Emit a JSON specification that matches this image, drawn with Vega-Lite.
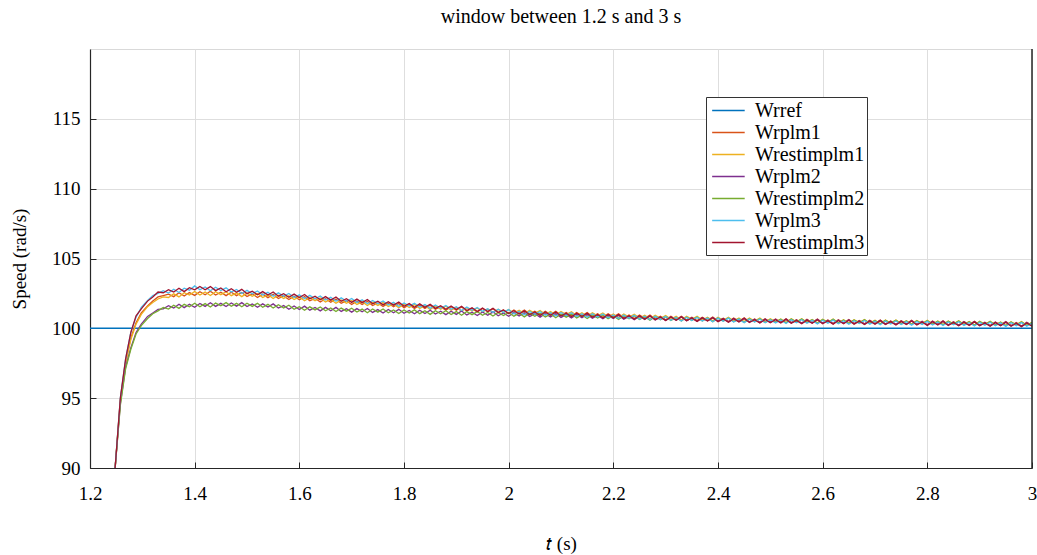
{
"$schema": "https://vega.github.io/schema/vega-lite/v6.json",
"width": 942, "height": 419,
"autosize": "none",
"padding": {"left": 90, "top": 49, "right": 5, "bottom": 87},
"background": "white",
"title": {"text": "window between 1.2 s and 3 s", "font": "Liberation Serif", "fontSize": 20, "fontWeight": "normal", "color": "#000", "offset": 21},
"config": {
  "font": "Liberation Serif",
  "view": {"stroke": "#d9d9d9", "strokeWidth": 1},
  "axis": {"labelFont": "Liberation Serif", "titleFont": "Liberation Serif", "labelFontSize": 19, "titleFontSize": 19, "titleFontWeight": "normal", "labelColor": "#000", "titleColor": "#000", "domainColor": "#262626", "domainWidth": 1.2, "tickColor": "#262626", "gridColor": "#dedede", "gridWidth": 1, "tickSize": -6, "labelFlush": false}
},
"datasets": {
  "names": [{"k":"a","s":"Wrplm1"},{"k":"b","s":"Wrestimplm1"},{"k":"c","s":"Wrplm2"},{"k":"d","s":"Wrestimplm2"},{"k":"e","s":"Wrplm3"},{"k":"f","s":"Wrestimplm3"}],
  "sim": [
{"t":1.248,"a":90,"b":90,"c":90,"d":90,"e":90,"f":90},
{"t":1.258,"a":94.9,"b":94.8,"c":94.6,"d":94.5,"e":95.0,"f":95.0},
{"t":1.268,"a":97.6,"b":97.5,"c":97.2,"d":97.1,"e":97.8,"f":97.8},
{"t":1.278,"a":99.3,"b":99.2,"c":98.6,"d":98.5,"e":99.7,"f":99.7},
{"t":1.288,"a":100.4,"b":100.3,"c":99.7,"d":99.6,"e":100.8,"f":100.9},
{"t":1.298,"a":101.1,"b":101.0,"c":100.3,"d":100.2,"e":101.5,"f":101.4},
{"t":1.31,"a":101.6,"b":101.55,"c":100.85,"d":100.7,"e":102.0,"f":101.95},
{"t":1.32,"a":101.95,"b":101.85,"c":101.1,"d":101.05,"e":102.35,"f":102.25},
{"t":1.33,"a":102.25,"b":102.1,"c":101.35,"d":101.25,"e":102.5,"f":102.6},
{"t":1.34,"a":102.35,"b":102.25,"c":101.4,"d":101.5,"e":102.7,"f":102.55},
{"t":1.35,"a":102.45,"b":102.21,"c":101.62,"d":101.38,"e":102.53,"f":102.77},
{"t":1.36,"a":102.27,"b":102.47,"c":101.45,"d":101.65,"e":102.80,"f":102.60},
{"t":1.37,"a":102.55,"b":102.25,"c":101.73,"d":101.43,"e":102.57,"f":102.87},
{"t":1.38,"a":102.31,"b":102.55,"c":101.48,"d":101.72,"e":102.87,"f":102.63},
{"t":1.39,"a":102.56,"b":102.38,"c":101.72,"d":101.54,"e":102.73,"f":102.91},
{"t":1.40,"a":102.36,"b":102.64,"c":101.51,"d":101.79,"e":103.04,"f":102.76},
{"t":1.41,"a":102.62,"b":102.38,"c":101.78,"d":101.54,"e":102.76,"f":103.00},
{"t":1.42,"a":102.40,"b":102.60,"c":101.57,"d":101.77,"e":102.96,"f":102.76},
{"t":1.43,"a":102.65,"b":102.35,"c":101.83,"d":101.53,"e":102.69,"f":102.99},
{"t":1.44,"a":102.38,"b":102.62,"c":101.57,"d":101.81,"e":102.94,"f":102.70},
{"t":1.45,"a":102.59,"b":102.41,"c":101.79,"d":101.61,"e":102.71,"f":102.89},
{"t":1.46,"a":102.34,"b":102.62,"c":101.56,"d":101.84,"e":102.90,"f":102.62},
{"t":1.47,"a":102.58,"b":102.34,"c":101.82,"d":101.58,"e":102.60,"f":102.84},
{"t":1.48,"a":102.34,"b":102.54,"c":101.59,"d":101.79,"e":102.78,"f":102.58},
{"t":1.49,"a":102.57,"b":102.27,"c":101.84,"d":101.54,"e":102.49,"f":102.79},
{"t":1.50,"a":102.28,"b":102.52,"c":101.56,"d":101.80,"e":102.72,"f":102.48},
{"t":1.51,"a":102.47,"b":102.29,"c":101.75,"d":101.57,"e":102.48,"f":102.66},
{"t":1.52,"a":102.21,"b":102.49,"c":101.51,"d":101.79,"e":102.68,"f":102.40},
{"t":1.53,"a":102.45,"b":102.21,"c":101.75,"d":101.51,"e":102.39,"f":102.63},
{"t":1.54,"a":102.20,"b":102.40,"c":101.52,"d":101.72,"e":102.58,"f":102.38},
{"t":1.55,"a":102.43,"b":102.13,"c":101.75,"d":101.45,"e":102.30,"f":102.60},
{"t":1.56,"a":102.13,"b":102.37,"c":101.45,"d":101.69,"e":102.54,"f":102.30},
{"t":1.57,"a":102.32,"b":102.14,"c":101.63,"d":101.45,"e":102.30,"f":102.48},
{"t":1.58,"a":102.06,"b":102.34,"c":101.37,"d":101.65,"e":102.50,"f":102.22},
{"t":1.59,"a":102.30,"b":102.06,"c":101.60,"d":101.36,"e":102.21,"f":102.45},
{"t":1.60,"a":102.05,"b":102.25,"c":101.35,"d":101.55,"e":102.40,"f":102.20},
{"t":1.61,"a":102.27,"b":101.97,"c":101.59,"d":101.29,"e":102.12,"f":102.42},
{"t":1.62,"a":101.97,"b":102.21,"c":101.30,"d":101.54,"e":102.36,"f":102.12},
{"t":1.63,"a":102.15,"b":101.97,"c":101.50,"d":101.32,"e":102.12,"f":102.30},
{"t":1.64,"a":101.89,"b":102.17,"c":101.25,"d":101.53,"e":102.32,"f":102.04},
{"t":1.65,"a":102.12,"b":101.88,"c":101.50,"d":101.26,"e":102.03,"f":102.27},
{"t":1.66,"a":101.87,"b":102.07,"c":101.26,"d":101.46,"e":102.22,"f":102.02},
{"t":1.67,"a":102.09,"b":101.79,"c":101.50,"d":101.20,"e":101.94,"f":102.24},
{"t":1.68,"a":101.79,"b":102.03,"c":101.21,"d":101.45,"e":102.18,"f":101.94},
{"t":1.69,"a":101.97,"b":101.79,"c":101.41,"d":101.23,"e":101.94,"f":102.12},
{"t":1.70,"a":101.71,"b":101.99,"c":101.16,"d":101.44,"e":102.14,"f":101.86},
{"t":1.71,"a":101.95,"b":101.71,"c":101.41,"d":101.17,"e":101.85,"f":102.09},
{"t":1.72,"a":101.70,"b":101.90,"c":101.18,"d":101.38,"e":102.04,"f":101.84},
{"t":1.73,"a":101.93,"b":101.63,"c":101.42,"d":101.12,"e":101.76,"f":102.06},
{"t":1.74,"a":101.63,"b":101.87,"c":101.14,"d":101.38,"e":102.00,"f":101.76},
{"t":1.75,"a":101.82,"b":101.64,"c":101.34,"d":101.16,"e":101.76,"f":101.94},
{"t":1.76,"a":101.56,"b":101.84,"c":101.10,"d":101.38,"e":101.96,"f":101.68},
{"t":1.77,"a":101.80,"b":101.56,"c":101.35,"d":101.11,"e":101.67,"f":101.91},
{"t":1.78,"a":101.55,"b":101.75,"c":101.12,"d":101.32,"e":101.86,"f":101.66},
{"t":1.79,"a":101.78,"b":101.48,"c":101.36,"d":101.06,"e":101.58,"f":101.88},
{"t":1.80,"a":101.48,"b":101.72,"c":101.08,"d":101.32,"e":101.82,"f":101.58},
{"t":1.81,"a":101.67,"b":101.49,"c":101.28,"d":101.10,"e":101.59,"f":101.77},
{"t":1.82,"a":101.42,"b":101.70,"c":101.04,"d":101.32,"e":101.79,"f":101.51},
{"t":1.83,"a":101.66,"b":101.42,"c":101.29,"d":101.05,"e":101.51,"f":101.75},
{"t":1.84,"a":101.42,"b":101.62,"c":101.06,"d":101.26,"e":101.70,"f":101.50},
{"t":1.85,"a":101.65,"b":101.35,"c":101.30,"d":101.00,"e":101.43,"f":101.73},
{"t":1.86,"a":101.36,"b":101.60,"c":101.02,"d":101.26,"e":101.67,"f":101.43},
{"t":1.87,"a":101.55,"b":101.37,"c":101.22,"d":101.04,"e":101.44,"f":101.62},
{"t":1.88,"a":101.30,"b":101.58,"c":100.98,"d":101.26,"e":101.64,"f":101.36},
{"t":1.89,"a":101.54,"b":101.30,"c":101.23,"d":100.99,"e":101.36,"f":101.60},
{"t":1.90,"a":101.30,"b":101.50,"c":101.00,"d":101.20,"e":101.55,"f":101.35},
{"t":1.91,"a":101.53,"b":101.23,"c":101.24,"d":100.94,"e":101.28,"f":101.58},
{"t":1.92,"a":101.24,"b":101.48,"c":100.96,"d":101.20,"e":101.52,"f":101.28},
{"t":1.93,"a":101.43,"b":101.25,"c":101.16,"d":100.98,"e":101.29,"f":101.47},
{"t":1.94,"a":101.18,"b":101.46,"c":100.92,"d":101.20,"e":101.49,"f":101.21},
{"t":1.95,"a":101.42,"b":101.18,"c":101.17,"d":100.93,"e":101.21,"f":101.45},
{"t":1.96,"a":101.18,"b":101.38,"c":100.94,"d":101.14,"e":101.40,"f":101.20},
{"t":1.97,"a":101.41,"b":101.11,"c":101.18,"d":100.88,"e":101.13,"f":101.43},
{"t":1.98,"a":101.12,"b":101.36,"c":100.90,"d":101.14,"e":101.37,"f":101.13},
{"t":1.99,"a":101.31,"b":101.13,"c":101.10,"d":100.92,"e":101.14,"f":101.32},
{"t":2.00,"a":101.06,"b":101.34,"c":100.86,"d":101.14,"e":101.34,"f":101.06},
{"t":2.01,"a":101.31,"b":101.10,"c":101.11,"d":100.87,"e":101.03,"f":101.26},
{"t":2.02,"a":101.07,"b":101.30,"c":100.88,"d":101.08,"e":101.23,"f":101.02},
{"t":2.03,"a":101.31,"b":101.04,"c":101.12,"d":100.82,"e":100.97,"f":101.26},
{"t":2.04,"a":101.02,"b":101.29,"c":100.84,"d":101.08,"e":101.22,"f":100.97},
{"t":2.05,"a":101.22,"b":101.07,"c":101.04,"d":100.86,"e":101.00,"f":101.17},
{"t":2.06,"a":100.97,"b":101.28,"c":100.80,"d":101.08,"e":101.21,"f":100.92},
{"t":2.07,"a":101.22,"b":101.01,"c":101.05,"d":100.81,"e":100.94,"f":101.17},
{"t":2.08,"a":100.98,"b":101.21,"c":100.82,"d":101.02,"e":101.14,"f":100.93},
{"t":2.09,"a":101.22,"b":100.95,"c":101.06,"d":100.76,"e":100.88,"f":101.17},
{"t":2.10,"a":100.93,"b":101.20,"c":100.78,"d":101.02,"e":101.13,"f":100.88},
{"t":2.11,"a":101.13,"b":100.98,"c":100.98,"d":100.80,"e":100.91,"f":101.08},
{"t":2.12,"a":100.88,"b":101.19,"c":100.74,"d":101.02,"e":101.12,"f":100.83},
{"t":2.13,"a":101.13,"b":100.92,"c":100.99,"d":100.75,"e":100.85,"f":101.08},
{"t":2.14,"a":100.89,"b":101.12,"c":100.76,"d":100.96,"e":101.05,"f":100.84},
{"t":2.15,"a":101.13,"b":100.86,"c":101.00,"d":100.70,"e":100.79,"f":101.08},
{"t":2.16,"a":100.84,"b":101.11,"c":100.72,"d":100.96,"e":101.04,"f":100.79},
{"t":2.17,"a":101.04,"b":100.89,"c":100.92,"d":100.74,"e":100.82,"f":100.99},
{"t":2.18,"a":100.79,"b":101.10,"c":100.68,"d":100.96,"e":101.03,"f":100.74},
{"t":2.19,"a":101.04,"b":100.83,"c":100.93,"d":100.69,"e":100.76,"f":100.99},
{"t":2.20,"a":100.80,"b":101.03,"c":100.70,"d":100.90,"e":100.96,"f":100.75},
{"t":2.21,"a":101.04,"b":100.77,"c":100.94,"d":100.64,"e":100.70,"f":100.99},
{"t":2.22,"a":100.75,"b":101.02,"c":100.66,"d":100.90,"e":100.95,"f":100.70},
{"t":2.23,"a":100.95,"b":100.80,"c":100.86,"d":100.68,"e":100.73,"f":100.90},
{"t":2.24,"a":100.70,"b":101.01,"c":100.62,"d":100.90,"e":100.94,"f":100.65},
{"t":2.25,"a":100.95,"b":100.74,"c":100.87,"d":100.63,"e":100.67,"f":100.90},
{"t":2.26,"a":100.71,"b":100.94,"c":100.64,"d":100.84,"e":100.87,"f":100.66},
{"t":2.27,"a":100.95,"b":100.68,"c":100.88,"d":100.58,"e":100.61,"f":100.90},
{"t":2.28,"a":100.66,"b":100.93,"c":100.60,"d":100.84,"e":100.86,"f":100.61},
{"t":2.29,"a":100.86,"b":100.71,"c":100.80,"d":100.62,"e":100.64,"f":100.81},
{"t":2.30,"a":100.61,"b":100.92,"c":100.56,"d":100.84,"e":100.85,"f":100.56},
{"t":2.31,"a":100.86,"b":100.65,"c":100.81,"d":100.57,"e":100.58,"f":100.81},
{"t":2.32,"a":100.63,"b":100.86,"c":100.58,"d":100.78,"e":100.79,"f":100.58},
{"t":2.33,"a":100.87,"b":100.60,"c":100.83,"d":100.53,"e":100.53,"f":100.82},
{"t":2.34,"a":100.59,"b":100.86,"c":100.55,"d":100.79,"e":100.79,"f":100.54},
{"t":2.35,"a":100.79,"b":100.64,"c":100.75,"d":100.57,"e":100.57,"f":100.74},
{"t":2.36,"a":100.55,"b":100.86,"c":100.51,"d":100.79,"e":100.79,"f":100.50},
{"t":2.37,"a":100.80,"b":100.59,"c":100.76,"d":100.52,"e":100.52,"f":100.75},
{"t":2.38,"a":100.57,"b":100.80,"c":100.54,"d":100.74,"e":100.73,"f":100.52},
{"t":2.39,"a":100.81,"b":100.54,"c":100.78,"d":100.48,"e":100.47,"f":100.76},
{"t":2.40,"a":100.53,"b":100.80,"c":100.50,"d":100.74,"e":100.73,"f":100.48},
{"t":2.41,"a":100.73,"b":100.58,"c":100.70,"d":100.52,"e":100.51,"f":100.68},
{"t":2.42,"a":100.49,"b":100.80,"c":100.46,"d":100.74,"e":100.73,"f":100.44},
{"t":2.43,"a":100.74,"b":100.53,"c":100.71,"d":100.47,"e":100.46,"f":100.69},
{"t":2.44,"a":100.51,"b":100.74,"c":100.48,"d":100.68,"e":100.67,"f":100.46},
{"t":2.45,"a":100.75,"b":100.48,"c":100.72,"d":100.42,"e":100.41,"f":100.70},
{"t":2.46,"a":100.47,"b":100.74,"c":100.45,"d":100.69,"e":100.67,"f":100.42},
{"t":2.47,"a":100.67,"b":100.52,"c":100.65,"d":100.47,"e":100.45,"f":100.62},
{"t":2.48,"a":100.43,"b":100.74,"c":100.41,"d":100.69,"e":100.67,"f":100.38},
{"t":2.49,"a":100.68,"b":100.47,"c":100.66,"d":100.42,"e":100.40,"f":100.63},
{"t":2.50,"a":100.45,"b":100.68,"c":100.43,"d":100.63,"e":100.61,"f":100.40},
{"t":2.51,"a":100.67,"b":100.46,"c":100.65,"d":100.44,"e":100.39,"f":100.62},
{"t":2.52,"a":100.44,"b":100.67,"c":100.42,"d":100.65,"e":100.60,"f":100.39},
{"t":2.53,"a":100.69,"b":100.42,"c":100.67,"d":100.40,"e":100.35,"f":100.64},
{"t":2.54,"a":100.41,"b":100.68,"c":100.39,"d":100.66,"e":100.61,"f":100.36},
{"t":2.55,"a":100.62,"b":100.47,"c":100.60,"d":100.45,"e":100.40,"f":100.57},
{"t":2.56,"a":100.38,"b":100.69,"c":100.36,"d":100.67,"e":100.62,"f":100.33},
{"t":2.57,"a":100.64,"b":100.43,"c":100.62,"d":100.41,"e":100.36,"f":100.59},
{"t":2.58,"a":100.41,"b":100.64,"c":100.39,"d":100.62,"e":100.57,"f":100.36},
{"t":2.59,"a":100.66,"b":100.39,"c":100.64,"d":100.37,"e":100.32,"f":100.61},
{"t":2.60,"a":100.38,"b":100.65,"c":100.36,"d":100.63,"e":100.58,"f":100.33},
{"t":2.61,"a":100.59,"b":100.44,"c":100.57,"d":100.42,"e":100.37,"f":100.54},
{"t":2.62,"a":100.35,"b":100.66,"c":100.33,"d":100.64,"e":100.59,"f":100.30},
{"t":2.63,"a":100.61,"b":100.40,"c":100.59,"d":100.38,"e":100.33,"f":100.56},
{"t":2.64,"a":100.38,"b":100.61,"c":100.36,"d":100.59,"e":100.54,"f":100.33},
{"t":2.65,"a":100.63,"b":100.36,"c":100.61,"d":100.34,"e":100.29,"f":100.58},
{"t":2.66,"a":100.35,"b":100.62,"c":100.33,"d":100.60,"e":100.55,"f":100.30},
{"t":2.67,"a":100.56,"b":100.41,"c":100.54,"d":100.39,"e":100.34,"f":100.51},
{"t":2.68,"a":100.32,"b":100.63,"c":100.30,"d":100.61,"e":100.56,"f":100.27},
{"t":2.69,"a":100.58,"b":100.37,"c":100.56,"d":100.35,"e":100.30,"f":100.53},
{"t":2.70,"a":100.35,"b":100.58,"c":100.33,"d":100.56,"e":100.51,"f":100.30},
{"t":2.71,"a":100.60,"b":100.33,"c":100.58,"d":100.31,"e":100.26,"f":100.55},
{"t":2.72,"a":100.32,"b":100.59,"c":100.30,"d":100.57,"e":100.52,"f":100.27},
{"t":2.73,"a":100.53,"b":100.38,"c":100.51,"d":100.36,"e":100.31,"f":100.48},
{"t":2.74,"a":100.29,"b":100.60,"c":100.27,"d":100.58,"e":100.53,"f":100.24},
{"t":2.75,"a":100.55,"b":100.34,"c":100.53,"d":100.32,"e":100.27,"f":100.50},
{"t":2.76,"a":100.32,"b":100.55,"c":100.30,"d":100.53,"e":100.48,"f":100.27},
{"t":2.77,"a":100.57,"b":100.30,"c":100.55,"d":100.28,"e":100.23,"f":100.52},
{"t":2.78,"a":100.29,"b":100.56,"c":100.27,"d":100.54,"e":100.49,"f":100.24},
{"t":2.79,"a":100.50,"b":100.35,"c":100.48,"d":100.33,"e":100.28,"f":100.45},
{"t":2.80,"a":100.26,"b":100.57,"c":100.24,"d":100.55,"e":100.50,"f":100.21},
{"t":2.81,"a":100.52,"b":100.31,"c":100.50,"d":100.29,"e":100.24,"f":100.47},
{"t":2.82,"a":100.29,"b":100.52,"c":100.27,"d":100.50,"e":100.45,"f":100.24},
{"t":2.83,"a":100.54,"b":100.27,"c":100.52,"d":100.25,"e":100.20,"f":100.49},
{"t":2.84,"a":100.26,"b":100.53,"c":100.24,"d":100.51,"e":100.46,"f":100.21},
{"t":2.85,"a":100.47,"b":100.32,"c":100.45,"d":100.30,"e":100.25,"f":100.42},
{"t":2.86,"a":100.23,"b":100.54,"c":100.21,"d":100.52,"e":100.47,"f":100.18},
{"t":2.87,"a":100.49,"b":100.28,"c":100.47,"d":100.26,"e":100.21,"f":100.44},
{"t":2.88,"a":100.26,"b":100.49,"c":100.24,"d":100.47,"e":100.42,"f":100.21},
{"t":2.89,"a":100.51,"b":100.24,"c":100.49,"d":100.22,"e":100.17,"f":100.46},
{"t":2.90,"a":100.23,"b":100.50,"c":100.21,"d":100.48,"e":100.43,"f":100.18},
{"t":2.91,"a":100.44,"b":100.29,"c":100.42,"d":100.27,"e":100.22,"f":100.39},
{"t":2.92,"a":100.20,"b":100.51,"c":100.18,"d":100.49,"e":100.44,"f":100.15},
{"t":2.93,"a":100.46,"b":100.25,"c":100.44,"d":100.23,"e":100.18,"f":100.41},
{"t":2.94,"a":100.23,"b":100.46,"c":100.21,"d":100.44,"e":100.39,"f":100.18},
{"t":2.95,"a":100.48,"b":100.21,"c":100.46,"d":100.19,"e":100.14,"f":100.43},
{"t":2.96,"a":100.20,"b":100.47,"c":100.18,"d":100.45,"e":100.40,"f":100.15},
{"t":2.97,"a":100.41,"b":100.26,"c":100.39,"d":100.24,"e":100.19,"f":100.36},
{"t":2.98,"a":100.17,"b":100.48,"c":100.15,"d":100.46,"e":100.41,"f":100.12},
{"t":2.99,"a":100.43,"b":100.22,"c":100.41,"d":100.20,"e":100.15,"f":100.38},
{"t":3.00,"a":100.20,"b":100.43,"c":100.18,"d":100.41,"e":100.36,"f":100.15}
  ]
},
"layer": [
  {
    "data": {"values": [{"t": 1.2, "v": 100, "s": "Wrref"}, {"t": 3, "v": 100, "s": "Wrref"}]},
    "mark": {"type": "line", "strokeWidth": 1.5, "clip": true},
    "encoding": {
      "x": {"field": "t", "type": "quantitative", "scale": {"domain": [1.2, 3], "nice": false, "zero": false},
            "axis": {"values": [1.2, 1.4, 1.6, 1.8, 2, 2.2, 2.4, 2.6, 2.8, 3], "format": "~g", "labelPadding": 22, "title": "𝑡 (s)", "titlePadding": 31,
                     "labelFont": "Liberation Serif", "titleFont": "Liberation Serif", "labelFontSize": 19, "titleFontSize": 19}},
      "y": {"field": "v", "type": "quantitative", "scale": {"domain": [90, 120], "nice": false, "zero": false},
            "axis": {"values": [90, 95, 100, 105, 110, 115], "labelPadding": 16, "title": "Speed (rad/s)", "titlePadding": 22,
                     "labelFont": "Liberation Serif", "titleFont": "Liberation Serif", "labelFontSize": 19, "titleFontSize": 19}},
      "color": {"field": "s", "type": "nominal",
        "scale": {"domain": ["Wrref", "Wrplm1", "Wrestimplm1", "Wrplm2", "Wrestimplm2", "Wrplm3", "Wrestimplm3"],
                  "range": ["#0072BD", "#D95319", "#EDB120", "#7E2F8E", "#77AC30", "#4DBEEE", "#A2142F"]},
        "legend": {"title": null, "orient": "none", "legendX": 616, "legendY": 48, "fillColor": "white", "strokeColor": "#333333", "padding": 2,
                   "symbolType": "M-0.7,0H2.4", "symbolSize": 441, "symbolStrokeWidth": 1.5, "symbolFillColor": "transparent", "rowPadding": -1,
                   "labelFont": "Liberation Serif", "labelFontSize": 20, "labelColor": "#000", "labelOffset": 24, "labelLimit": 400,
                   "labelExpr": "datum.label + '\u00a0\u00a0\u00a0\u00a0\u00a0\u00a0\u00a0\u00a0\u00a0\u00a0'"}}
    }
  },
  {
    "data": {"name": "sim"},
    "transform": [
      {"fold": ["a", "b", "c", "d", "e", "f"], "as": ["k", "v"]},
      {"lookup": "k", "from": {"data": {"name": "names"}, "key": "k", "fields": ["s"]}}
    ],
    "mark": {"type": "line", "strokeWidth": 1.3, "clip": true},
    "encoding": {
      "x": {"field": "t", "type": "quantitative"},
      "y": {"field": "v", "type": "quantitative"},
      "color": {"field": "s", "type": "nominal"}
    }
  },
  {
    "data": {"values": [{"t": 3}]},
    "mark": {"type": "rule", "color": "#262626", "strokeWidth": 1.5},
    "encoding": {"x": {"field": "t", "type": "quantitative"}}
  }
]
}
